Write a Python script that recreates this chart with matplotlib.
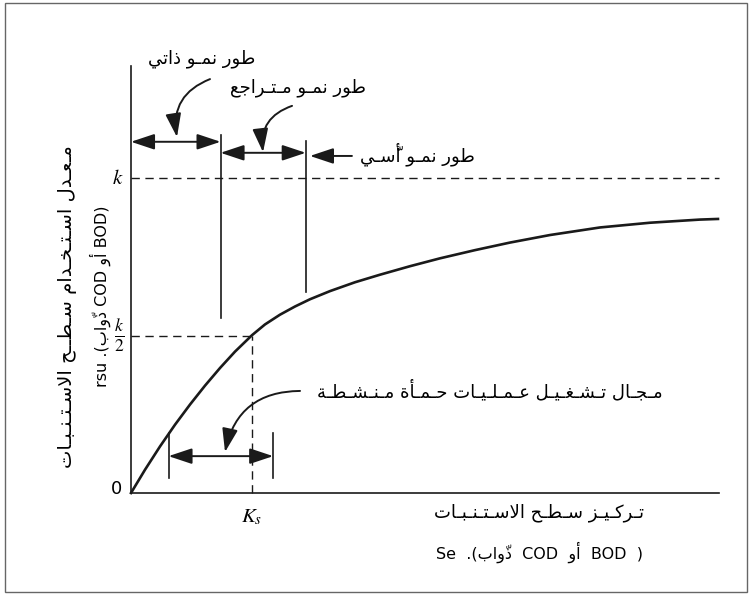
import matplotlib
matplotlib.use('Agg')
import matplotlib.pyplot as plt
from matplotlib.patches import Rectangle

# substrate concentration (units of Ks) and utilisation rate (units of k)
s_vals = [0.0, 0.116, 0.240, 0.364, 0.488, 0.612, 0.736, 0.860, 1.0, 1.107, 1.231, 1.355, 1.479,
          1.645, 1.851, 2.058, 2.306, 2.554, 2.843, 3.132, 3.463, 3.876, 4.289, 4.702, 4.851]
r_vals = [0.0, 0.074, 0.148, 0.217, 0.281, 0.341, 0.397, 0.449, 0.501, 0.535, 0.566, 0.592, 0.615,
          0.641, 0.669, 0.693, 0.720, 0.745, 0.771, 0.795, 0.819, 0.843, 0.858, 0.868, 0.870]
k_max = 1.0
k_s = 1.0
phase_bounds = [0.740, 1.444]          # endogenous | declining | exponential
sludge_range = [0.310, 1.175]          # activated sludge operating range
x_end = 4.86
y_end = 1.356

# tatweel (ـ) stretches the words the way the printed figure does
txt_endog = 'طور نمـو ذاتي'
txt_decl = 'طور نمـو مـتـراجع'
txt_expo = 'طور نمـو أسّـي'
txt_sludge = 'مـجـال تـشـغـيـل عـمـلـيـات حـمـأة مـنـشـطـة'
txt_xlab = 'تـركـيـز سـطـح الاسـتـنـبـات'
txt_ylab = 'مـعـدل اسـتـخـدام سـطــح الاسـتـنـبـات'
units_x = 'Se  .(' + '{w}' + '  COD  ' + '{o}' + '  BOD  )'
units_y = 'rsu .(' + '{w}' + ' COD ' + '{o}' + ' BOD)'

# --- minimal arabic shaping (matplotlib draws glyphs left to right, unjoined) ---
RIGHT_ONLY = {'ا': 0xFE8D, 'أ': 0xFE83, 'د': 0xFEA9, 'ذ': 0xFEAB, 'ر': 0xFEAD,
              'ز': 0xFEAF, 'و': 0xFEED, 'ة': 0xFE93}
DUAL = {'ب': 0xFE8F, 'ت': 0xFE95, 'ج': 0xFE9D, 'ح': 0xFEA1, 'خ': 0xFEA5,
        'س': 0xFEB1, 'ش': 0xFEB5, 'ط': 0xFEC1, 'ع': 0xFEC9, 'غ': 0xFECD,
        'ك': 0xFED9, 'ل': 0xFEDD, 'م': 0xFEE1, 'ن': 0xFEE5, 'ي': 0xFEF1,
        'ـ': None}
MARKS = {'\u0651'}


def ar(text):
    cl = []
    for ch in text:
        if ch in MARKS and cl:
            cl[-1][1] += ch
        else:
            cl.append([ch, ''])
    merged = []
    i = 0
    while i < len(cl):
        b, m = cl[i]
        if b == 'ل' and i + 1 < len(cl) and cl[i + 1][0] in ('ا', 'أ'):
            merged.append(['LA' if cl[i + 1][0] == 'ا' else 'LAH', m + cl[i + 1][1]])
            i += 2
        else:
            merged.append([b, m])
            i += 1
    out = []
    for i, (b, m) in enumerate(merged):
        prev = merged[i - 1][0] if i > 0 else None
        nxt = merged[i + 1][0] if i + 1 < len(merged) else None
        jp = prev in DUAL
        if b in ('LA', 'LAH'):
            g = chr((0xFEFB if b == 'LA' else 0xFEF7) + (1 if jp else 0))
        elif b == 'ـ':
            g = b
        elif b in DUAL:
            jn = nxt in DUAL or nxt in RIGHT_ONLY or nxt in ('LA', 'LAH')
            g = chr(DUAL[b] + [[0, 2], [1, 3]][jp][jn])
        elif b in RIGHT_ONLY:
            g = chr(RIGHT_ONLY[b] + (1 if jp else 0))
        else:
            g = b
        out.append(g + m)
    return ''.join(reversed(out))


plt.rcParams['font.family'] = ['DejaVu Sans']
plt.rcParams['mathtext.fontset'] = 'stix'

fig = plt.figure(figsize=(7.52, 5.95), dpi=100)
ax = fig.add_axes([0, 0, 1, 1])
ax.set_xlim(-131 / 121, 621 / 121)
ax.set_ylim(-102 / 315, 493 / 315)
ax.axis('off')

fig.patches.append(Rectangle((5 / 752, 3 / 595), 742 / 752, 589 / 595, transform=fig.transFigure,
                             fill=False, ec='#666666', lw=1.0))

ink = '#1a1a1a'
# axes
ax.plot([0, 0], [0, y_end], color=ink, lw=1.2)
ax.plot([0, x_end], [0, 0], color=ink, lw=1.2)
# k and k/2 guides
ax.plot([0, x_end], [k_max, k_max], color=ink, lw=1.0, ls=(0, (6, 4)))
ax.plot([0, k_s], [k_max / 2, k_max / 2], color=ink, lw=1.0, ls=(0, (6, 4)))
ax.plot([k_s, k_s], [0, k_max / 2], color=ink, lw=1.0, ls=(0, (6, 4)))
# curve
ax.plot(s_vals, r_vals, color=ink, lw=1.9, solid_joinstyle='round')

# phase boundaries
ax.plot([phase_bounds[0]] * 2, [0.556, 1.137], color=ink, lw=1.2)
ax.plot([phase_bounds[1]] * 2, [0.638, 1.117], color=ink, lw=1.2)

dbl = dict(arrowstyle='<|-|>,head_length=0.9,head_width=0.3', color=ink, lw=1.4,
           shrinkA=0, shrinkB=0, mutation_scale=16)
one = dict(arrowstyle='-|>,head_length=0.9,head_width=0.3', color=ink, lw=1.4,
           shrinkA=0, shrinkB=0, mutation_scale=16)
ax.annotate('', xy=(phase_bounds[0], 1.115), xytext=(0, 1.115), arrowprops=dbl)
ax.annotate('', xy=(phase_bounds[1], 1.080), xytext=(phase_bounds[0], 1.080), arrowprops=dbl)
ax.annotate('', xy=(1.479, 1.070), xytext=(1.826, 1.070), arrowprops=one)

# operating range
ax.annotate('', xy=(sludge_range[1], 0.117), xytext=(sludge_range[0], 0.117), arrowprops=dbl)
for xb in sludge_range:
    ax.plot([xb, xb], [0.048, 0.190], color=ink, lw=1.2)

# curved pointers
for tail, tip in [((0.653, 1.314), (0.380, 1.130)),
                  ((1.331, 1.229), (1.091, 1.082)),
                  ((1.397, 0.324), (0.777, 0.130))]:
    ax.annotate('', xy=tip, xytext=tail,
                arrowprops=dict(one, connectionstyle='arc3,rad=0.4'))

# texts
fs = 13
ax.text(0.587, 1.378, ar(txt_endog), fontsize=fs, ha='center', va='center')
ax.text(1.380, 1.286, ar(txt_decl), fontsize=fs, ha='center', va='center')
ax.text(2.364, 1.075, ar(txt_expo), fontsize=fs, ha='center', va='center')
ax.text(2.967, 0.324, ar(txt_sludge), fontsize=fs, ha='center', va='center')

ax.text(3.372, -0.063, ar(txt_xlab), fontsize=fs, ha='center', va='center')
ax.text(3.372, -0.187, units_x.format(w=ar('ذوّاب'), o=ar('أو')),
        fontsize=11.5, ha='center', va='center')
ax.text(-0.521, 0.592, ar(txt_ylab), fontsize=14, ha='center', va='center', rotation=90)
ax.text(-0.256, 0.625, units_y.format(w=ar('ذوّاب'), o=ar('أو')),
        fontsize=11.5, ha='center', va='center', rotation=90)

ax.text(-0.116, 0.013, '0', fontsize=13, ha='center', va='center')
ax.text(-0.107, 1.0, '$k$', fontsize=15, ha='center', va='center')
ax.text(-0.095, 0.50, r'$\frac{k}{2}$', fontsize=18, ha='center', va='center')
ax.text(1.0, -0.075, '$K_s$', fontsize=15, ha='center', va='center')

fig.savefig('out.png', dpi=100)
